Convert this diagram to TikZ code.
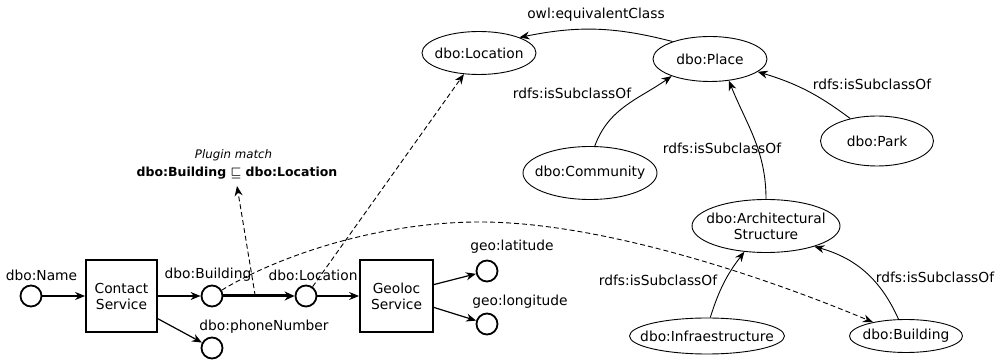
\documentclass[tikz,border=0pt]{standalone}
\usepackage{fontspec}
\setmainfont{DejaVu Sans}
\usetikzlibrary{arrows.meta,shapes.geometric,calc}
\begin{document}
\begin{tikzpicture}[x=1pt,y=1pt,
 every node/.style={font=\fontsize{13.8}{16}\selectfont},
 port/.style={circle,draw,line width=1.8pt,minimum size=21pt,inner sep=0pt},
 svc/.style={rectangle,draw,line width=1.8pt,align=center,inner sep=0pt},
 onto/.style={ellipse,draw,line width=0.9pt,inner sep=0pt},
 lbl/.style={inner sep=0pt},
 tip/.style={-{Stealth[length=10pt,width=8pt]}},
 arr/.style={line width=1.2pt,tip},
 thickarr/.style={line width=3pt,-{Stealth[length=10pt,width=9pt]}},
 dsh/.style={line width=0.9pt,dash pattern=on 5pt off 3pt,tip},
]
\useasboundingbox[fill=white] (0,0) rectangle (1003,361);

% service side
\node[port] (name) at (31,65) {};
\node[lbl] (nameL) at (41.5,86) {dbo:Name};
\node[svc,minimum width=71pt,minimum height=72pt] (contact) at (121.5,65) {Contact\\Service};
\node[port] (bcirc) at (212,65) {};
\node[lbl] (bcircL) at (208,86) {dbo:Building};
\node[port] (lcirc) at (306,65) {};
\node[lbl] (lcircL) at (313,86) {dbo:Location};
\node[port] (phone) at (212,13) {};
\node[lbl] (phoneL) at (264,34) {dbo:phoneNumber};
\node[svc,minimum width=73pt,minimum height=72pt] (geoloc) at (396.5,65) {Geoloc\\Service};
\node[port] (lat) at (487,90) {};
\node[lbl] (latL) at (512,114) {geo:latitude};
\node[port] (long) at (487,37) {};
\node[lbl] (longL) at (520,59) {geo:longitude};

\draw[arr] (name) -- (contact);
\draw[arr] (contact) -- (bcirc);
\draw[arr] (contact.-32) -- (phone);
\draw[thickarr] (bcirc) -- (lcirc);
\draw[arr] (lcirc) -- (geoloc);
\draw[arr] (geoloc.17) -- (lat);
\draw[arr] (geoloc.-17) -- (long);

% plugin match
\node[lbl,font=\fontsize{11.8}{14}\selectfont\itshape] (pmL) at (233.5,206) {Plugin match};
\node[lbl,font=\fontsize{12.5}{15}\selectfont\bfseries] (pmT) at (237,188) {dbo:Building {\boldmath$\sqsubseteq$} dbo:Location};
\coordinate (pm) at ($(bcirc)!0.46!(lcirc)$);
\coordinate (sqtip) at (237,175);
\draw[dsh] (pm) -- (sqtip);

% ontology
\node[onto,minimum width=114pt,minimum height=43pt,label={center:dbo:Location}] (loc) at (479,308) {};
\node[onto,minimum width=114pt,minimum height=45pt,label={center:dbo:Place}] (place) at (710,302) {};
\node[onto,minimum width=113pt,minimum height=50pt,label={center:dbo:Park}] (park) at (877,220) {};
\node[onto,minimum width=134pt,minimum height=53pt,label={center:dbo:Community}] (comm) at (590,188) {};
\node[onto,minimum width=148pt,minimum height=53pt,label={[align=center]center:dbo:Architectural\\Structure}] (arch) at (766,135) {};
\node[onto,minimum width=155pt,minimum height=36pt,label={center:dbo:Infraestructure}] (infra) at (707,25) {};
\node[onto,minimum width=113pt,minimum height=33pt,label={center:dbo:Building}] (bld) at (906,25) {};

\draw[arr,line width=0.9pt] (place.155) to[bend right=13] (loc.21);
\node[lbl] (eqL) at (596,346) {owl:equivalentClass};
\draw[arr,line width=0.9pt] (comm.80) to[out=70,in=215] (place.204);
\node[lbl] (commL) at (572,268) {rdfs:isSubclassOf};
\draw[arr,line width=0.9pt] (arch.north) to[out=90,in=-68] (place.-49);
\node[lbl] (archL) at (722,213) {rdfs:isSubclassOf};
\draw[arr,line width=0.9pt] (park.140) to[bend right=10] (place.-15);
\node[lbl] (parkL) at (872,277) {rdfs:isSubclassOf};
\draw[arr,line width=0.9pt] (infra.80) to[bend left=10] (arch.-130);
\node[lbl] (infraL) at (658,81) {rdfs:isSubclassOf};
\draw[arr,line width=0.9pt] (bld.114) to[bend right=25] (arch.-23);
\node[lbl] (bldL) at (935,84) {rdfs:isSubclassOf};

% dashed correspondences
\draw[dsh] (lcirc) -- (loc);
\coordinate (apex) at (480,139);
\draw[dsh] (bcirc) .. controls (280,106) and (380,139) .. (apex) .. controls (600,139) and (760,86) .. (bld);
\end{tikzpicture}
\end{document}
